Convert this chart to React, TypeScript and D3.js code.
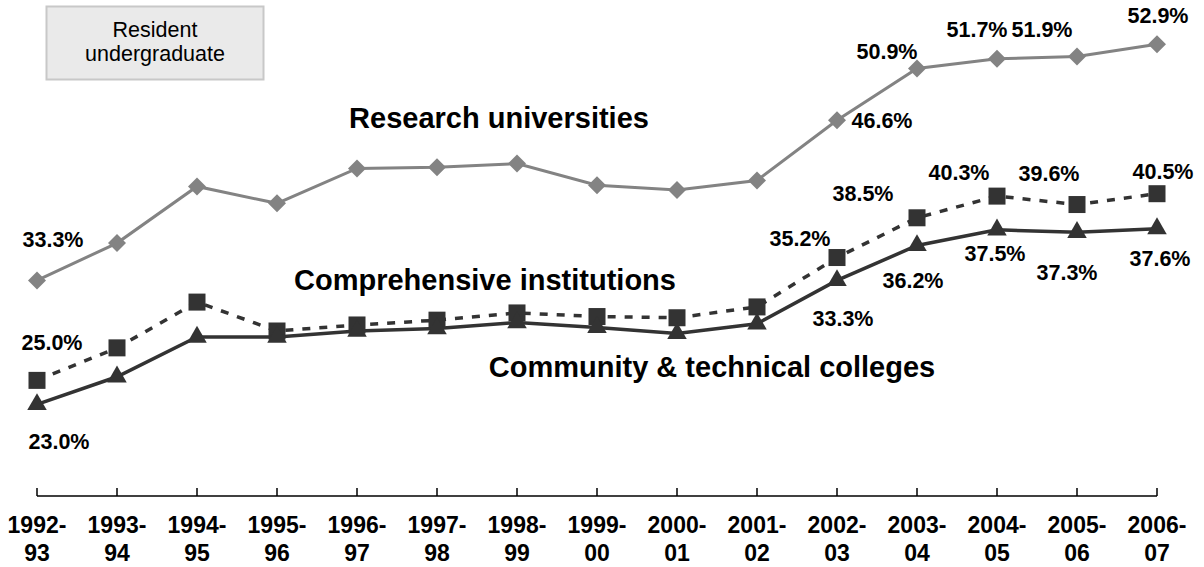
import React from "react";
import * as d3 from "d3";

const years = ["1992-93","1993-94","1994-95","1995-96","1996-97","1997-98","1998-99","1999-00","2000-01","2001-02","2002-03","2003-04","2004-05","2005-06","2006-07"];
const research = [33.3, 36.4, 41.1, 39.7, 42.6, 42.7, 43.0, 41.2, 40.8, 41.6, 46.6, 50.9, 51.7, 51.9, 52.9];
const comprehensive = [25.0, 27.7, 31.5, 29.1, 29.6, 30.0, 30.6, 30.3, 30.2, 31.1, 35.2, 38.5, 40.3, 39.6, 40.5];
const community = [23.0, 25.3, 28.6, 28.6, 29.1, 29.3, 29.8, 29.4, 28.9, 29.7, 33.3, 36.2, 37.5, 37.3, 37.6];
const labeledIdx = [0, 10, 11, 12, 13, 14];
const seriesNames = ["Research universities", "Comprehensive institutions", "Community & technical colleges"];
const boxTitle = ["Resident", "undergraduate"];

// label offsets (styling/placement), per labeled index
const researchOff = [[16, -33], [45, 8], [-30, -9], [-20, -22], [-35, -19], [1, -21]];
const compOff = [[15, -30], [-37, -12], [-54, -17], [-38, -16], [-28, -24], [6, -15]];
const commOff = [[22, 45], [6, 46], [-4, 43], [-2, 31], [-10, 48], [3, 37]];

const FONT = "'Liberation Sans', Arial, sans-serif";
const W = 1204, H = 567;
const AXIS_Y = 496;

export default function App() {
  const x = d3.scalePoint<string>().domain(years).range([37, 1157]);
  const y = d3.scaleLinear().domain([15.4, 56.5]).range([AXIS_Y, 1]);
  const line = d3.line<number>().x((_, i) => x(years[i])!).y((d) => y(d));
  const fmt = (v: number) => v.toFixed(1) + "%";

  const labels = (data: number[], offs: number[][]) =>
    labeledIdx.map((idx, k) => (
      <text key={k} x={x(years[idx])! + offs[k][0]} y={y(data[idx]) + offs[k][1]}
        textAnchor="middle" fontFamily={FONT} fontWeight="bold" fontSize={21.5} fill="#000">
        {fmt(data[idx])}
      </text>
    ));

  const dark = "#333333";
  const grey = "#838383";
  const dh = 9;
  const diamond = `M0,${-dh}L${dh},0L0,${dh}L${-dh},0Z`;
  const sq = 8.5;
  const tri = d3.symbol().type(d3.symbolTriangle).size(165)();

  return (
    <svg width={W} height={H} style={{ position: "absolute", left: 0, top: 0, background: "#fff" }}>
      {/* legend box */}
      <rect x={46.5} y={6.5} width={217} height={73} fill="#eaeaea" stroke="#c8c8c8" strokeWidth={2} />
      <text x={155} y={36.5} textAnchor="middle" fontFamily={FONT} fontSize={21.5} fill="#000">{boxTitle[0]}</text>
      <text x={155} y={61} textAnchor="middle" fontFamily={FONT} fontSize={21.5} fill="#000">{boxTitle[1]}</text>

      {/* axis */}
      <line x1={x(years[0])} x2={x(years[years.length - 1])} y1={AXIS_Y} y2={AXIS_Y} stroke="#000" strokeWidth={1.5} />
      {years.map((yr) => (
        <g key={yr}>
          <line x1={x(yr)} x2={x(yr)} y1={AXIS_Y} y2={AXIS_Y - 8} stroke="#000" strokeWidth={1.5} />
          <text x={x(yr)} y={533} textAnchor="middle" fontFamily={FONT} fontWeight="bold" fontSize={23}>{yr.slice(0, 5)}</text>
          <text x={x(yr)} y={561} textAnchor="middle" fontFamily={FONT} fontWeight="bold" fontSize={23}>{yr.slice(5)}</text>
        </g>
      ))}

      {/* research */}
      <path d={line(research)!} fill="none" stroke={grey} strokeWidth={3} />
      {research.map((v, i) => (
        <path key={i} d={diamond} transform={`translate(${x(years[i])},${y(v)})`} fill={grey} />
      ))}

      {/* comprehensive */}
      <path d={line(comprehensive)!} fill="none" stroke={dark} strokeWidth={3.5} strokeDasharray="8,9" />
      {comprehensive.map((v, i) => (
        <rect key={i} x={x(years[i])! - sq} y={y(v) - sq} width={sq * 2} height={sq * 2} fill={dark} />
      ))}

      {/* community */}
      <path d={line(community)!} fill="none" stroke={dark} strokeWidth={3.5} />
      {community.map((v, i) => (
        <path key={i} d={tri!} transform={`translate(${x(years[i])},${y(v)})`} fill={dark} />
      ))}

      {labels(research, researchOff)}
      {labels(comprehensive, compOff)}
      {labels(community, commOff)}

      <text x={499} y={128} textAnchor="middle" fontFamily={FONT} fontWeight="bold" fontSize={29}>{seriesNames[0]}</text>
      <text x={485} y={290} textAnchor="middle" fontFamily={FONT} fontWeight="bold" fontSize={29}>{seriesNames[1]}</text>
      <text x={712} y={377} textAnchor="middle" fontFamily={FONT} fontWeight="bold" fontSize={29}>{seriesNames[2]}</text>
    </svg>
  );
}
